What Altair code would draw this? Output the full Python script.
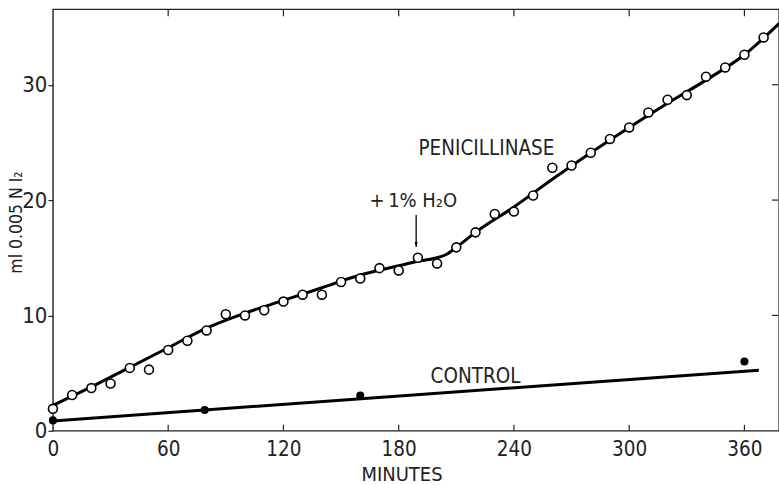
import altair as alt
import pandas as pd

# ---- data ----
pen_minutes = [0, 10, 20, 30, 40, 50, 60, 70, 80, 90, 100, 110, 120, 130, 140, 150, 160, 170, 180,
               190, 200, 210, 220, 230, 240, 250, 260, 270, 280, 290, 300, 310, 320, 330, 340, 350, 360, 370]
pen_values = [1.9, 3.1, 3.7, 4.1, 5.45, 5.3, 7.0, 7.8, 8.7, 10.1, 10.0, 10.45, 11.2, 11.8, 11.8, 12.9,
              13.2, 14.1, 13.9, 15.0, 14.5, 15.9, 17.2, 18.8, 19.0, 20.4, 22.8, 23.0, 24.1, 25.3, 26.3,
              27.6, 28.7, 29.1, 30.7, 31.5, 32.6, 34.1]

fit_minutes = [0, 20, 40, 60, 80, 100, 120, 140, 160, 180, 190, 200, 205, 210, 220, 240, 260, 280,
               300, 320, 340, 360, 378]
fit_values = [2.2, 3.8, 5.5, 7.2, 8.9, 10.2, 11.3, 12.4, 13.5, 14.3, 14.7, 15.0, 15.3, 15.9, 17.2,
              19.4, 21.8, 24.1, 26.3, 28.4, 30.4, 32.6, 35.3]

ctrl_minutes = [0, 79, 160, 360]
ctrl_values = [0.9, 1.8, 3.05, 6.0]

ctrl_fit_minutes = [0, 367.5]
ctrl_fit_values = [0.85, 5.25]

x_ticks = [0, 60, 120, 180, 240, 300, 360]
y_ticks = [0, 10, 20, 30]

labels = ["PENICILLINASE", "CONTROL", "+\u20091% H\u2082O"]
label_x = [190.3, 196.6, 164.8]
label_y = [23.9, 4.16, 19.4]
label_size = [20.5, 20.5, 20]

arrow_x = [189.1]
arrow_top = [18.7]
arrow_tip = [15.93]

XMAX = 378.0
YMAX = 36.54
W, H = 727, 422
FONT = "Liberation Sans Narrow, DejaVu Sans Condensed, Liberation Sans, Arial"
TXT = "#222222"

pen_df = pd.DataFrame({"m": pen_minutes, "v": pen_values})
fit_df = pd.DataFrame({"m": fit_minutes, "v": fit_values})
ctrl_df = pd.DataFrame({"m": ctrl_minutes, "v": ctrl_values})
cfit_df = pd.DataFrame({"m": ctrl_fit_minutes, "v": ctrl_fit_values})
lab_df = pd.DataFrame({"t": labels, "m": label_x, "v": label_y, "s": label_size})
arr_df = pd.DataFrame({"m": arrow_x, "top": arrow_top, "tip": arrow_tip})
xt_df = pd.DataFrame({"m": x_ticks[1:]})
yt_df = pd.DataFrame({"v": y_ticks[1:]})

xs = alt.Scale(domain=[0, XMAX], nice=False, zero=False)
ys = alt.Scale(domain=[0, YMAX], nice=False, zero=False)

xaxis = alt.Axis(values=x_ticks, grid=False, ticks=False, tickSize=0, domain=False,
                 labelFont=FONT, labelFontSize=20.5, labelColor=TXT, labelPadding=9,
                 labelFlush=False, title="MINUTES", titleFont=FONT, titleFontSize=20,
                 titleFontWeight="normal", titleColor=TXT, titleX=349, titleY=50,
                 titleAlign="center", titleBaseline="alphabetic")
yaxis = alt.Axis(values=y_ticks, grid=False, ticks=True, tickSize=5, tickColor="#222",
                 tickWidth=1.2, domain=False, labelFont=FONT, labelFontSize=22,
                 labelColor=TXT, labelPadding=1, labelFlush=False, labelBaseline="middle",
                 title="ml 0.005 N I\u2082", titleFont=FONT, titleFontSize=17.5,
                 titleFontWeight="normal", titleColor=TXT, titleAngle=-90, titleX=-31,
                 titleY=213, titleAlign="center", titleBaseline="alphabetic")

X = alt.X("m:Q", scale=xs, axis=xaxis)
Y = alt.Y("v:Q", scale=ys, axis=yaxis)

fit = alt.Chart(fit_df).mark_line(color="black", strokeWidth=3, interpolate="monotone").encode(x=X, y=Y)
pts = alt.Chart(pen_df).mark_point(shape="circle", filled=True, fill="white", stroke="black",
                                   strokeWidth=1.6, size=80, opacity=1, fillOpacity=1).encode(x="m:Q", y="v:Q")
cfit = alt.Chart(cfit_df).mark_line(color="black", strokeWidth=3).encode(x="m:Q", y="v:Q")
cpts = alt.Chart(ctrl_df).mark_point(shape="circle", filled=True, color="black", size=65,
                                     opacity=1).encode(x="m:Q", y="v:Q")
txt = alt.Chart(lab_df).mark_text(font=FONT, color=TXT, align="left",
                                  baseline="alphabetic").encode(
    x="m:Q", y="v:Q", text="t:N", size=alt.Size("s:Q", scale=None, legend=None))
arr = alt.Chart(arr_df).mark_rule(color="black", strokeWidth=1.3).encode(x="m:Q", y="top:Q", y2="tip:Q")
head = alt.Chart(arr_df).mark_point(shape="M -0.3 -1 L 0.3 -1 L 0 0 Z", filled=True, color="black",
                                    size=100, opacity=1).encode(x="m:Q", y="tip:Q")

bt = alt.Chart(xt_df).mark_rule(color="#222", strokeWidth=1.2).encode(
    x="m:Q", y=alt.value(H), y2=alt.value(H - 6))
tt = alt.Chart(xt_df).mark_rule(color="#222", strokeWidth=1.2).encode(
    x="m:Q", y=alt.value(0), y2=alt.value(7))
rt = alt.Chart(yt_df).mark_rule(color="#222", strokeWidth=1.2).encode(
    y="v:Q", x=alt.value(W - 1), x2=alt.value(W - 7))

chart = alt.layer(fit, pts, cfit, cpts, txt, arr, head, bt, tt, rt).properties(
    width=W, height=H,
    autosize=alt.AutoSizeParams(type="none"),
    padding={"left": 53, "top": 9, "right": 0, "bottom": 54},
    background="white",
).configure_view(stroke="#222", strokeWidth=1.4)

chart.save("out.html", embed_options={"renderer": "svg", "actions": False})
